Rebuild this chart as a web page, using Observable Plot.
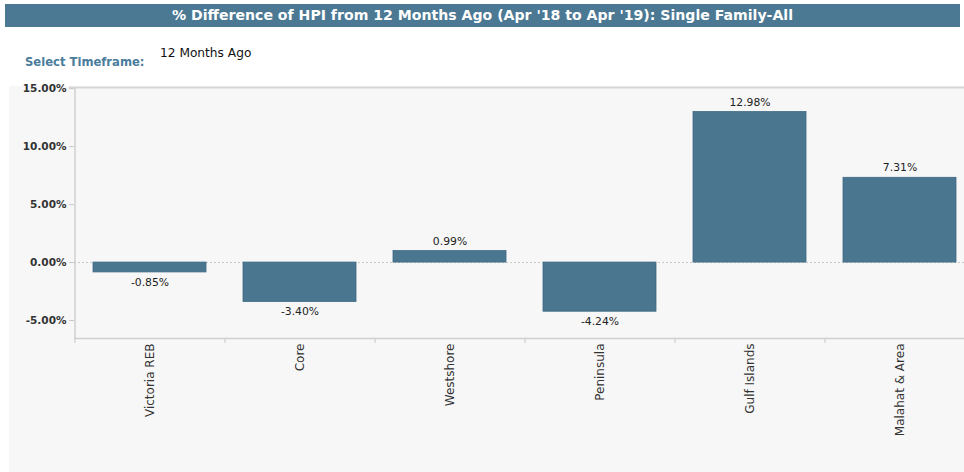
<!DOCTYPE html>
<html>
<head>
<meta charset="utf-8">
<script src="https://cdn.jsdelivr.net/npm/d3@7"></script>
<script src="https://cdn.jsdelivr.net/npm/@observablehq/plot@0.6"></script>
<style>
  html, body { margin: 0; padding: 0; background: #ffffff; width: 964px; height: 472px; overflow: hidden; font-family: "DejaVu Sans", Verdana, sans-serif; }
  #title { position: absolute; left: 5px; top: 4px; width: 955px; height: 23px; background: #4b7893; color: #fff; font-weight: bold; font-size: 14.1px; line-height: 23px; text-align: center; }
  #sel { position: absolute; left: 25px; top: 55px; font-size: 11.6px; font-weight: bold; color: #4a7c9c; }
  #val { position: absolute; left: 160px; top: 46px; font-size: 12.2px; color: #111; }
  #panel { position: absolute; left: 9px; top: 86px; width: 955px; height: 386px; background: #f7f7f7; }
  #panel svg { display: block; }
</style>
</head>
<body>
<div id="title">% Difference of HPI from 12 Months Ago (Apr '18 to Apr '19): Single Family-All</div>
<div id="sel">Select Timeframe:</div>
<div id="val">12 Months Ago</div>
<div id="panel"></div>
<script>
const categories = ["Victoria REB", "Core", "Westshore", "Peninsula", "Gulf Islands", "Malahat & Area"];
const values = [-0.85, -3.40, 0.99, -4.24, 12.98, 7.31];
const yTicks = [-5, 0, 5, 10, 15];

const data = categories.map((c, i) => ({category: c, value: values[i]}));
const fmt = v => v.toFixed(2) + "%";
const yMin = -6.55, yMax = 15.1;

const chart = Plot.plot({
  width: 955,
  height: 386,
  marginTop: 1,
  marginBottom: 134,
  marginLeft: 65,
  marginRight: 0,
  style: {background: "transparent", fontFamily: "'DejaVu Sans', Verdana, sans-serif", fontSize: "10px", overflow: "visible"},
  x: {domain: categories, range: [65, 965], paddingInner: 0.25, paddingOuter: 0.125, label: null},
  y: {domain: [yMin, yMax], label: null},
  marks: [
    // plot border (top, left, bottom)
    Plot.ruleY([yMax], {stroke: "#d8d8d8", strokeWidth: 2, insetLeft: -5}),
    Plot.ruleX([categories[0]], {dx: -75, y1: yMin, y2: yMax, stroke: "#d0d0d0", strokeWidth: 1.5}),
    Plot.ruleY([yMin], {stroke: "#d0d0d0", strokeWidth: 1.5}),
    // zero grid line
    Plot.ruleY([0], {stroke: "#c8c8c8", strokeDasharray: "2,2"}),
    // x band boundary ticks
    Plot.ruleX(categories, {x: d => d, dx: -75, y1: yMin, y2: yMin, insetBottom: -5, stroke: "#c8c8c8"}),
    Plot.barY(data, {x: "category", y: "value", fill: "#4a7690", stroke: "#3f6a84", strokeWidth: 0.8}),
    Plot.text(data.filter(d => d.value >= 0), {x: "category", y: "value", text: d => fmt(d.value), dy: -10, fill: "#222", fontSize: 10.8}),
    Plot.text(data.filter(d => d.value < 0), {x: "category", y: "value", text: d => fmt(d.value), dy: 10, fill: "#222", fontSize: 10.8}),
    Plot.axisY({ticks: yTicks, tickFormat: fmt, tickSize: 5, tickPadding: 3, stroke: "#c8c8c8", color: "#333", fontWeight: "bold", fontSize: 10.5, label: null}),
    Plot.axisX({tickSize: 0, tickRotate: -90, tickPadding: 5, color: "#333", fontSize: 12, label: null})
  ]
});
document.getElementById("panel").appendChild(chart);
</script>
</body>
</html>
